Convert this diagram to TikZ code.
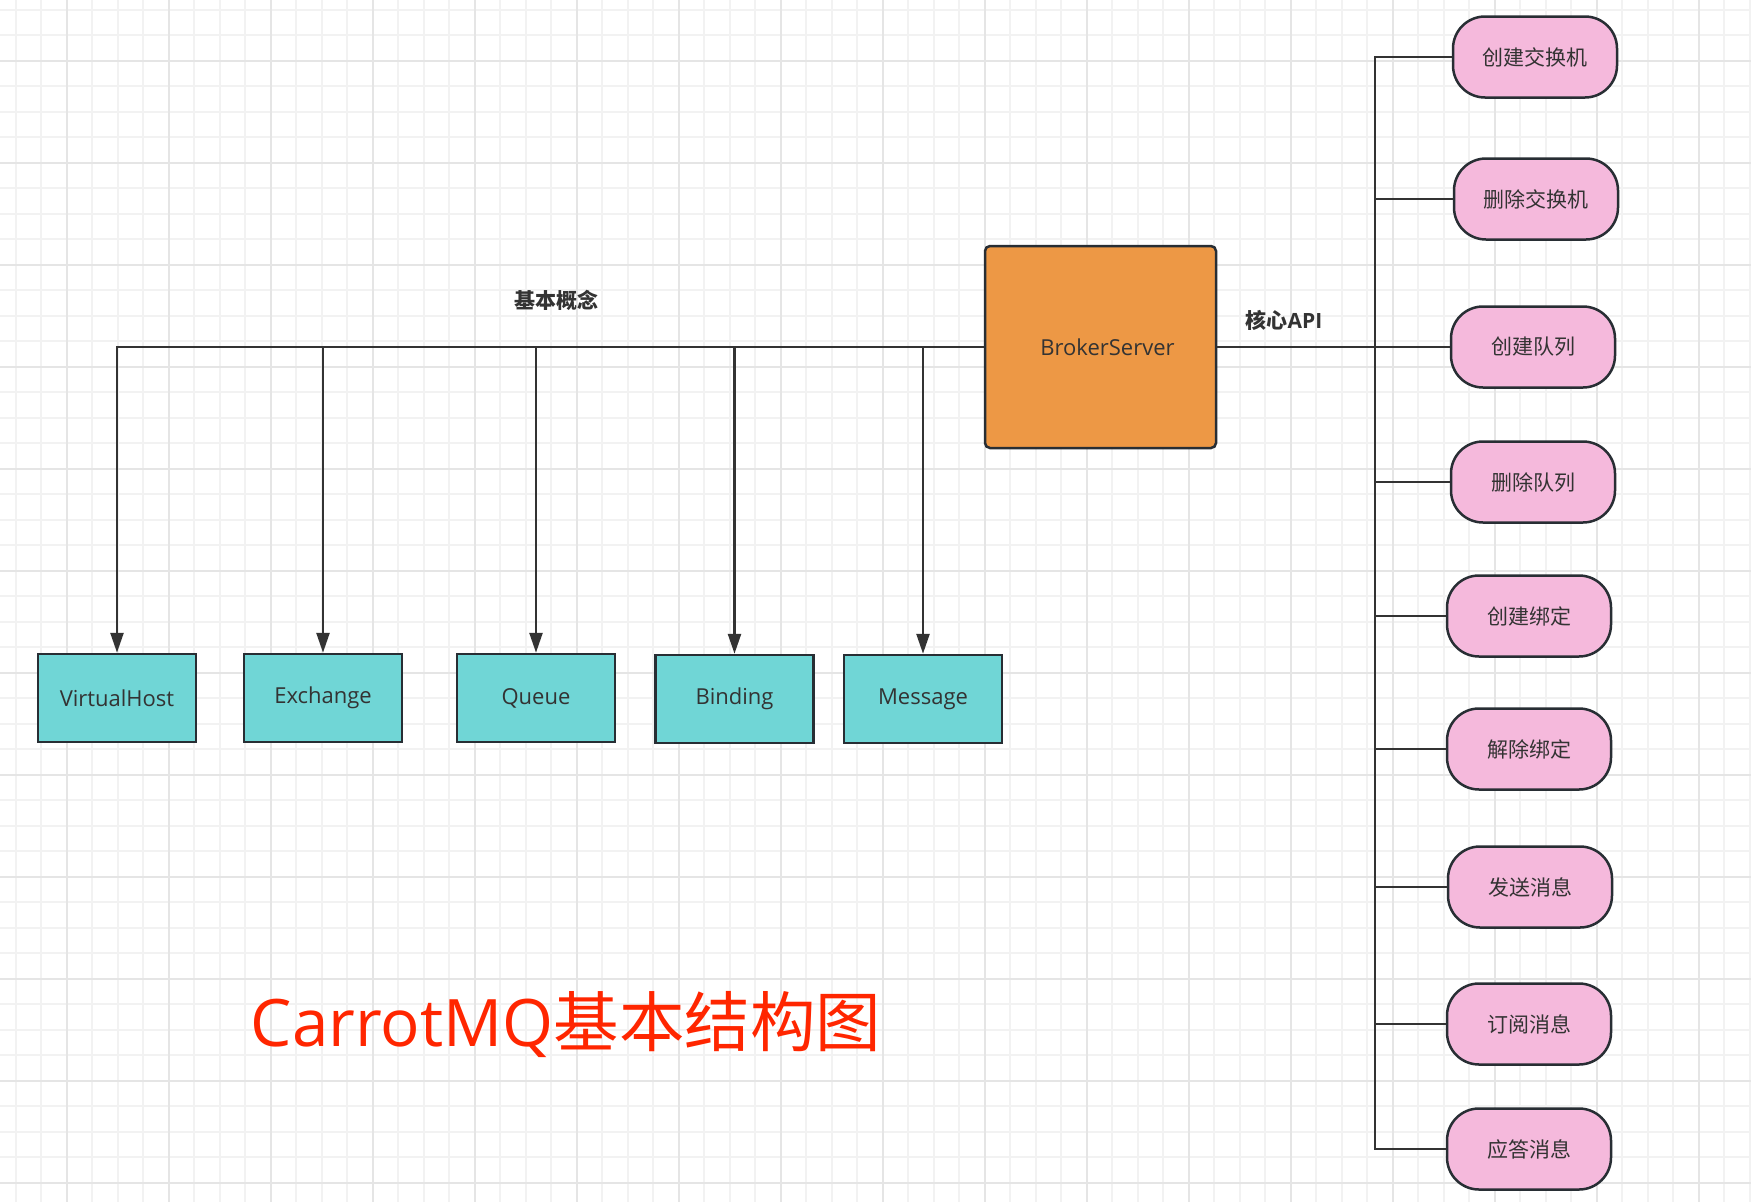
\documentclass[tikz,border=0pt]{standalone}
\usepackage{fontspec}
\setmainfont{Open Sans}
\newfontfamily\cjk{Noto Sans CJK SC}
\usetikzlibrary{arrows.meta}
\definecolor{linec}{RGB}{51,51,51}
\definecolor{bordc}{RGB}{40,46,52}
\definecolor{orangef}{RGB}{237,152,69}
\definecolor{tealf}{RGB}{112,214,214}
\definecolor{pinkf}{RGB}{245,185,220}
\definecolor{titlec}{RGB}{255,38,0}
\definecolor{gridminor}{RGB}{242,242,242}
\definecolor{gridmajor}{RGB}{229,229,229}
\begin{document}
\begin{tikzpicture}[x=1pt,y=-1pt,
  concept/.style={draw=bordc, line width=2.5pt, fill=tealf, minimum width=158pt, minimum height=88pt, inner sep=0pt, text=linec, font=\fontsize{22}{26}\selectfont},
  broker/.style={draw=bordc, line width=2.5pt, fill=orangef, rounded corners=5pt, minimum width=231pt, minimum height=202pt, inner sep=0pt, text=linec, font=\fontsize{22}{26}\selectfont},
  api/.style={draw=bordc, line width=2.5pt, fill=pinkf, rounded corners=32pt, minimum width=164pt, minimum height=81pt, inner sep=0pt, text=linec, font=\cjk\fontsize{21}{25}\selectfont},
  conn/.style={draw=linec, line width=2.5pt},
  arr/.style={conn, -{Triangle[length=20pt,width=13pt]}},
  lbl/.style={text=linec, font=\cjk\bfseries\fontsize{21}{25}\selectfont},
  gminor/.style={draw=gridminor, line width=2pt},
  gmajor/.style={draw=gridmajor, line width=2pt}]
\useasboundingbox (0,0) rectangle (1751,1202);
\fill[white] (0,0) rectangle (1751,1202);
% grid
\foreach \i in {0,...,68} \draw[gminor] (15.7+25.5*\i,0) -- (15.7+25.5*\i,1202);
\foreach \i in {0,...,47} \draw[gminor] (0,9.7+25.5*\i) -- (1751,9.7+25.5*\i);
\foreach \i in {0,...,16} \draw[gmajor] (66.7+102*\i,0) -- (66.7+102*\i,1202);
\foreach \i in {0,...,11} \draw[gmajor] (0,60.7+102*\i) -- (1751,60.7+102*\i);
% nodes
\node[broker] (broker) at (1100.5,347) {\hspace{14pt}BrokerServer};
\node[concept] (vh) at (117,698) {VirtualHost};
\node[concept] (ex) at (323,698) {Exchange};
\node[concept] (qu) at (536,698) {Queue};
\node[concept] (bi) at (734.5,699) {Binding};
\node[concept] (me) at (923,699) {Message};
\node[api] (p1) at (1535,57) {创建交换机};
\node[api] (p2) at (1536,199) {删除交换机};
\node[api] (p3) at (1533,347) {创建队列};
\node[api] (p4) at (1533,482) {删除队列};
\node[api] (p5) at (1529,616) {创建绑定};
\node[api] (p6) at (1529,749) {解除绑定};
\node[api] (p7) at (1530,887) {发送消息};
\node[api] (p8) at (1529,1024) {订阅消息};
\node[api] (p9) at (1529,1149) {应答消息};
\node[lbl] (l1) at (556,300) {基本概念};
\node[lbl] (l2) at (1284,320) {核心\textbf{\rmfamily API}};
\node[text=titlec, font=\fontsize{65.5}{70}\selectfont] (title) at (566,1025) {CarrotMQ{\cjk 基本结构图}};
% left connectors
\draw[arr] (broker.west) -| (vh.north);
\draw[arr] (ex.north |- broker.west) -- (ex.north);
\draw[arr] (qu.north |- broker.west) -- (qu.north);
\draw[arr] (bi.north |- broker.west) -- (bi.north);
\draw[arr] (me.north |- broker.west) -- (me.north);
% right connectors
\coordinate (tk) at (1375,0);
\draw[conn] (broker.east) -- (broker.east -| tk);
\draw[conn] (p1.west) -| (tk |- p9.west) -- (p9.west);
\foreach \p in {p2,p3,p4,p5,p6,p7,p8} \draw[conn] (\p.west) -- (\p.west -| tk);
\end{tikzpicture}
\end{document}
